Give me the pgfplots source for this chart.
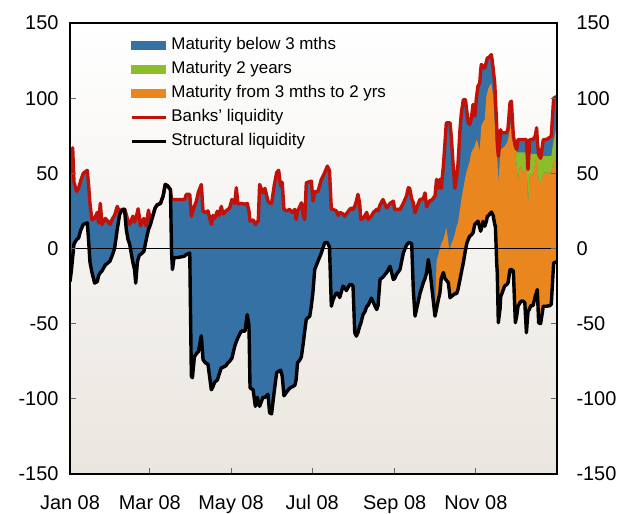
\documentclass[border=0pt]{standalone}
\usepackage{fontspec}
\setmainfont{Liberation Sans}
\usepackage{pgfplots}
\pgfplotsset{compat=1.18}
\usepgfplotslibrary{fillbetween}
\usepackage{pgfplotstable}

\definecolor{cblue}{RGB}{53,113,165}
\definecolor{corange}{RGB}{233,134,30}
\definecolor{cgreen}{RGB}{141,190,42}
\definecolor{cred}{RGB}{192,18,8}
\definecolor{bgb}{RGB}{234,230,223}

% d = day of 2008, s = structural liquidity, r = banks' liquidity,
% o = top of orange band, g = top of green band (used from October on)
\pgfplotstableread{
d s r o g
0 -22 50 0 0
1 -15 62 0 0
2 -6 67 0 0
3 3 44 0 0
5 6 38 0 0
6.5 7 40 0 0
8 12 45 0 0
10 16 50 0 0
13 17 52 0 0
14 5 42 0 0
15 -9 30 0 0
16.5 -16 19 0 0
18.5 -23 20 0 0
20.5 -22 24 0 0
21.5 -18 17 0 0
22.8 -16 30 0 0
24 -15 16 0 0
26.5 -11 20 0 0
28.6 -9.5 18 0 0
30 -8.5 16 0 0
32 -4 20 0 0
33.5 0 22 0 0
35.5 12.6 28 0 0
37.3 22.6 24 0 0
39 25.5 26 0 0
41 25.8 26.3 0 0
42.3 12.6 22.6 0 0
43.6 6 18 0 0
44.8 3 16 0 0
47.3 -9.5 21.5 0 0
48.5 -14 17.5 0 0
49.4 -23 20 0 0
50.6 -9.5 24 0 0
51.2 -7 26.4 0 0
52.3 -4 20 0 0
53 -4 15 0 0
55.5 -2 20 0 0
57.3 6 15 0 0
59 12.6 25.5 0 0
60.5 16 17.5 0 0
62 21 21 0 0
64 27 27 0 0
65.5 29 29 0 0
68 30 30 0 0
70 35 35 0 0
71.6 42.6 42.6 0 0
73.6 41.5 41.5 0 0
75.5 39 39 0 0
76.3 -2 32.6 0 0
77 -14 32.6 0 0
78.2 -6 32.6 0 0
81 -6 32.6 0 0
84 -5.5 32.6 0 0
86.2 -5 32.6 0 0
87.4 -4 36 0 0
90 -3 36 0 0
91.2 -85 21.5 0 0
92 -86 24 0 0
93.5 -72 28 0 0
95 -70 31.5 0 0
96.5 -68.6 37.5 0 0
98.7 -58 42.6 0 0
100 -74 24.8 0 0
101.7 -76 24 0 0
103.7 -77 25 0 0
106.2 -94 16 0 0
107.4 -92 22 0 0
108.7 -89 20 0 0
110.7 -87.5 24.8 0 0
112 -84 22 0 0
113.7 -79.4 28 0 0
115 -79 23 0 0
117.2 -78 25 0 0
118.7 -76 26 0 0
120 -75 27 0 0
121.7 -73 32.6 0 0
123.8 -65 30 0 0
125 -62 40.4 0 0
126.2 -59.4 29.7 0 0
128.7 -55 30 0 0
131.5 -55 29.5 0 0
133.2 -44 30 0 0
134.5 -51 25 0 0
135.3 -92.7 18.2 0 0
137.6 -94 19 0 0
139.3 -105 16 0 0
140.8 -99 18 0 0
141.5 -102 18.2 0 0
142.5 -105 42.6 0 0
145 -99 37 0 0
146.5 -99 40 0 0
148.8 -97 31.5 0 0
150 -109.3 30.4 0 0
151.5 -110 30 0 0
153.5 -95 42 0 0
155.3 -82.7 50.4 0 0
156.8 -81.6 52 0 0
158.3 -81 41.5 0 0
159.5 -85 44 0 0
160.8 -98 26 0 0
162.8 -95.5 25 0 0
165 -93 26 0 0
167 -92 24 0 0
169 -91 26 0 0
170 -87 19.3 0 0
171 -76 25 0 0
172.8 -74 28 0 0
173.9 -72 30.4 0 0
175.3 -63 22 0 0
176.4 -55 19.3 0 0
177.6 -47 43.7 0 0
180.2 -45 44.5 0 0
181.4 -38 44.8 0 0
182.6 -29 31.5 0 0
183.9 -14 37.7 0 0
186.4 -8.4 38 0 0
188.9 -3 46 0 0
191.4 3.8 50.4 0 0
193.4 4 54.8 0 0
195 1 52 0 0
196.4 -38.4 26 0 0
197.7 -34 26 0 0
200.2 -29.5 25 0 0
201.4 -30 22 0 0
202.7 -32.6 24 0 0
205.2 -25 23 0 0
206.4 -26 21.5 0 0
207.7 -28 23 0 0
210.2 -24 26 0 0
211.7 -24 27 0 0
212.7 -25 26 0 0
214 -56 28 0 0
215.2 -58.3 31.5 0 0
216.4 -56 36 0 0
217.7 -51.7 30 0 0
218.5 -50 19.3 0 0
220.2 -44 20 0 0
221.7 -42 22 0 0
223 -38.4 24 0 0
224 -38 19.3 0 0
226.5 -33 21.5 0 0
228 -36 24 0 0
230.5 -40.6 26 0 0
231.5 -38 25 0 0
233 -20.6 29 0 0
235.2 -19 32.6 0 0
238 -16 27 0 0
240.5 -11.8 30 0 0
243 -20.6 31.5 0 0
244 -20 26 0 0
245.5 -17 26 0 0
248 -14 26 0 0
250.5 -3 30 0 0
252.8 2 34.8 0 0
254.3 3.8 40.4 0 0
255.3 4 40 0 0
256.8 3 33 0 0
258 -27.3 30.4 0 0
259.3 -45 23.7 0 0
261.8 -35 30 0 0
263 -30 32.6 0 0
265.5 -22.8 33 0 0
266.8 -20 37 0 0
268 -16 27.7 0 0
269.3 -7.3 30 0 0
270.6 -15 32 0 0
271.8 -25 32 0 0
274.3 -45 35 -45 -45
275.5 -40 46 -8 -8
276.6 -35 40 -5 -5
278 -29.5 46 0 0
279 -20 40 3 3
280.6 -16 54.8 6 6
281.8 -20 70 10 10
282.8 -21 83.6 13.8 13.8
284.3 -22.8 83.6 5 5
285.3 -30 83.6 -3 -3
285.6 -32.8 83.6 0 0
286.5 -32 75 3 3
288 -31 54.8 6 6
289.3 -30 40 10 10
290.6 -30 48 15 15
291.6 -27.3 56 17 17
293.1 -20.6 79 26 26
294.1 -16 90 32.6 32.6
295.6 -9.5 99 40 40
297.2 -1 99 48 48
298.4 4 90 52 52
299.3 6 83.6 54.8 54.8
300.4 8.2 82.5 58 58
301.6 9 86 63.7 63.7
302.9 10.4 95.8 66 66
304.2 16 88 68 68
305.4 17 100 72.5 72.5
306.6 18.2 108 70 70
307.9 14 110 65 65
308.6 11.5 118 75 75
309.1 13 122.4 81.4 81.4
310.4 18 121.3 84 84
311.7 14.8 120 85.8 85.8
312.9 18 124 101.3 101.3
313.7 21.5 126.9 104 104
314.6 22 126.9 107 107
316.7 24.2 129 110 110
318 22 120 101.3 101.3
319.2 16 110 83.6 83.6
319.7 14.8 100 75 75
320.7 -10 81.4 63 63
321.1 -16 70 61.4 61.4
321.9 -49.4 61.4 43.7 43.7
323.2 -40 72.5 60 60
323.7 -31.7 79 65.9 65.9
324.2 -31 77 66 66
326.6 -25 77 68 68
328.2 -24 77 70 70
329.2 -22.8 80 72.5 72.5
330.7 -14 97 80 80
331.7 -14 98 83.6 86
333.2 -15 74.7 72 74
334.7 -49.4 68 63.7 66
335.7 -45 65.9 55 64
336.7 -38.4 72.5 46 64
338.2 -36 72.5 54.8 64
339.2 -35 72.5 54.8 64
340.5 -35 72.5 50 64
341.8 -36 72.5 52 64
343 -56 72.5 61.4 64
344.2 -42 52.6 30.4 51
345.5 -40 72.5 48 63
346.2 -38 72.5 50 63
348 -38 72.5 48 63
349.7 -31.7 75 58 63
350.7 -29 80.3 61.4 63
351.2 -27.3 72 55 62
352.2 -49.4 62.5 46 62
353.7 -50 60 43.7 59
355.7 -38.4 72.5 50.4 61.4
358 -38.4 72.5 50.4 61.4
360.7 -38 74 50.4 61.4
361.7 -37 74.7 50.4 61.4
363.5 -9.5 100 58 72
365.5 -9 101 60 80
}\liq

\begin{document}
\begin{tikzpicture}
\pgfplotsset{
  liqaxis/.style={
    scale only axis, width=487bp, height=451bp,
    xmin=0, xmax=366, ymin=-150, ymax=150,
    ytick={-150,-100,-50,0,50,100,150},
    tick align=inside, major tick length=6bp,
    major tick style={line width=0.8bp, black!60},
    axis line style={line width=1.4bp},
    /pgf/number format/assume math mode=true,
    tick label style={font=\fontsize{20}{24}\selectfont},
  }
}
\begin{axis}[liqaxis, name=main,
  axis on top,
  axis background/.style={shade, top color=white, bottom color=bgb},
  xtick={0,60,121,182,244,305},
  xticklabels={Jan 08,Mar 08,May 08,Jul 08,Sep 08,Nov 08},
  xtick pos=left, ytick pos=left,
  xticklabel style={yshift=-18bp},
  yticklabel style={xshift=-8bp},
  legend style={draw=none, fill=none, at={(axis description cs:0.1232,0.972)},
    anchor=north west, inner sep=0pt, outer sep=0pt, row sep=4.5bp,
    font=\fontsize{17}{20}\selectfont,
    nodes={inner sep=1bp, text height=13bp, text depth=4.5bp},
    /tikz/every odd column/.append style={column sep=3bp}},
  legend cell align=left,
]
\addlegendimage{legend image code/.code={\fill[cblue] (0bp,-4bp) rectangle (34bp,4bp);}}
\addlegendentry{Maturity below 3 mths}
\addlegendimage{legend image code/.code={\fill[cgreen] (0bp,-4bp) rectangle (34bp,4bp);}}
\addlegendentry{Maturity 2 years}
\addlegendimage{legend image code/.code={\fill[corange] (0bp,-4bp) rectangle (34bp,4bp);}}
\addlegendentry{Maturity from 3 mths to 2 yrs}
\addlegendimage{legend image code/.code={\draw[cred, line width=3.4bp] (0bp,0bp) -- (34bp,0bp);}}
\addlegendentry{Banks' liquidity}
\addlegendimage{legend image code/.code={\draw[black, line width=3.4bp] (0bp,0bp) -- (34bp,0bp);}}
\addlegendentry{Structural liquidity}

% boundary paths
\addplot[draw=none, name path=S] table[x=d, y=s] {\liq};
\addplot[draw=none, name path=R] table[x=d, y=r] {\liq};
\addplot[draw=none, name path=S2, restrict x to domain=274:366] table[x=d, y=s] {\liq};
\addplot[draw=none, name path=O2, restrict x to domain=274:366] table[x=d, y=o] {\liq};
\addplot[draw=none, name path=O3, restrict x to domain=330:366] table[x=d, y=o] {\liq};
\addplot[draw=none, name path=G3, restrict x to domain=330:366] table[x=d, y=g] {\liq};

% stacked bands
\addplot[cblue, draw=none] fill between[of=S and R];
\addplot[corange, draw=none] fill between[of=S2 and O2];
\addplot[cgreen, draw=none] fill between[of=O3 and G3];

% zero line
\addplot[black, line width=1.7bp] coordinates {(0,0) (366,0)};

% lines
\addplot[cred, line width=3.4bp, line join=round] table[x=d, y=r] {\liq};
\addplot[black, line width=3.4bp, line join=round] table[x=d, y=s] {\liq};
\end{axis}

\begin{axis}[liqaxis,
  hide x axis,
  axis y line*=right,
  ytick pos=right, yticklabel pos=right,
  yticklabel style={xshift=16bp},
]
\end{axis}

\pgfresetboundingbox
\path (main.south west) +(-70bp,-40bp) (main.north east) +(62bp,23bp);
\end{tikzpicture}
\end{document}
